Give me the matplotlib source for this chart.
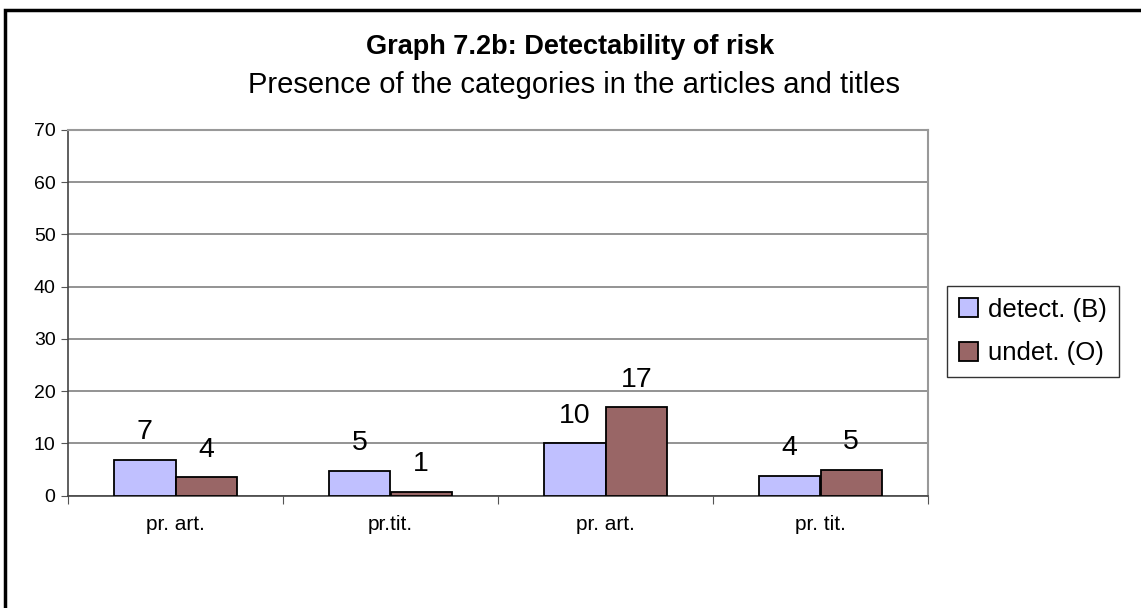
import numpy as np
import matplotlib
matplotlib.use("Agg")
import matplotlib.pyplot as plt
from matplotlib.patches import Rectangle

# data
categories = ['pr. art.', 'pr.tit.', 'pr. art.', 'pr. tit.']
detect = [6.8, 4.7, 10.0, 3.8]
undet = [3.5, 0.8, 16.9, 5.0]
detect_labels = ['7', '5', '10', '4']
undet_labels = ['4', '1', '17', '5']
yticks = [0, 10, 20, 30, 40, 50, 60, 70]

plt.rcParams['font.family'] = ['Liberation Sans', 'DejaVu Sans']

fig = plt.figure(figsize=(11.41, 6.08), dpi=100)
ax = fig.add_axes([68/1141, 1-495.7/608, 860/1141, 365.7/608])

x = np.arange(len(categories))
w = 0.2857
b1 = ax.bar(x - w/2, detect, w, color='#C0C0FF', edgecolor='black', linewidth=1.3,
            label='detect. (B)', zorder=3)
b2 = ax.bar(x + w/2, undet, w, color='#996666', edgecolor='black', linewidth=1.3,
            label='undet. (O)', zorder=3)

# value labels above bars
for bars, labs in [(b1, detect_labels), (b2, undet_labels)]:
    for rect, lab in zip(bars, labs):
        ax.annotate(lab, (rect.get_x() + rect.get_width()/2, rect.get_height()),
                    xytext=(0, 20), textcoords='offset points',
                    ha='center', va='center', fontsize=20.5)

ax.set_xlim(-0.5, 3.5)
ax.set_ylim(0, 70)
ax.set_yticks(yticks)
ax.tick_params(axis='y', labelsize=14, length=5, color='#555555', pad=4)
ax.set_xticks(np.arange(-0.5, 4, 1))
ax.set_xticklabels([])
ax.set_xticks(x, minor=True)
ax.set_xticklabels(categories, minor=True, fontsize=15)
ax.tick_params(axis='x', which='major', length=6, color='#555555')
ax.tick_params(axis='x', which='minor', length=0, pad=14)

ax.grid(axis='y', color='#808080', linewidth=1.2, zorder=0)
ax.set_axisbelow(True)
for s in ['top', 'right']:
    ax.spines[s].set_color('#999999')
    ax.spines[s].set_linewidth(1.5)
for s in ['left', 'bottom']:
    ax.spines[s].set_color('#444444')
    ax.spines[s].set_linewidth(1.2)

leg = ax.legend(loc='center left', bbox_to_anchor=(947/1141, 1-331.5/608),
                bbox_transform=fig.transFigure, fontsize=18.5, frameon=True,
                fancybox=False, edgecolor='black', handlelength=0.75,
                handleheight=0.75, handletextpad=0.4, borderpad=0.45,
                labelspacing=0.75, borderaxespad=0)
leg.get_frame().set_linewidth(1.0)

fig.text(0.5, 1-47/608, 'Graph 7.2b: Detectability of risk', ha='center',
         va='center', fontsize=19.5, fontweight='bold')
fig.text(0.503, 1-85/608, 'Presence of the categories in the articles and titles',
         ha='center', va='center', fontsize=21)

# outer chart border (right and bottom edges fall outside the image)
fig.add_artist(Rectangle((5/1141, -0.1), 1.2, 1.1 - 10/608, transform=fig.transFigure,
                         fill=False, edgecolor='black', linewidth=2.5))

fig.savefig('out.png', dpi=100)
